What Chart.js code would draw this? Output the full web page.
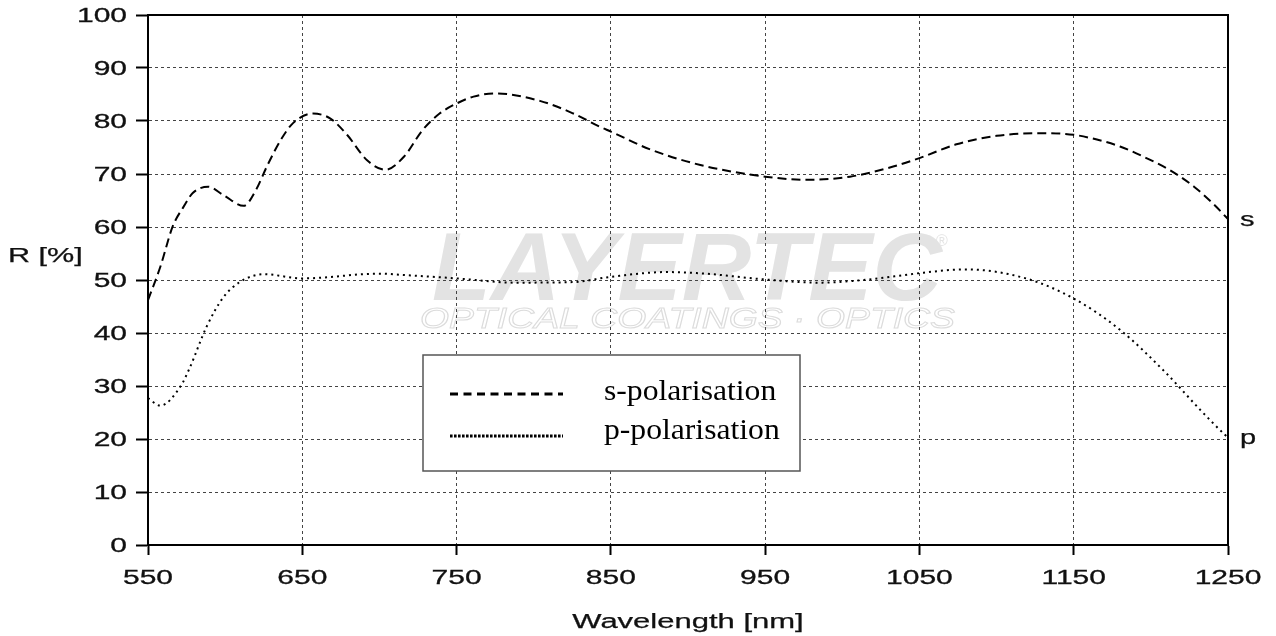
<!DOCTYPE html>
<html>
<head>
<meta charset="utf-8">
<script src="https://cdn.jsdelivr.net/npm/chart.js@4"></script>
<style>
  html, body { margin: 0; padding: 0; background: #fff; }
  #wrap { width: 1276px; height: 636px; position: relative; }
</style>
</head>
<body>
<div id="wrap"><canvas id="chart"></canvas></div>
<script>
// s-polarisation
const sWave = [550, 558, 566, 573, 579, 589, 599, 612, 620, 627, 636, 644, 657, 668, 679, 692, 704, 716, 728, 739,
               750, 761, 775, 804, 825, 843, 850, 875, 908, 950, 977, 1005, 1033, 1050, 1074, 1100, 1131, 1150,
               1165, 1180, 1195, 1212, 1228, 1241, 1250]
const sR    = [46.2, 52.5, 60.1, 63.8, 66.4, 67.6, 66.0, 64.0, 67.0, 71.4, 76.4, 79.6, 81.4, 80.5, 77.4, 72.6, 70.8, 73.3, 78.3, 81.4,
               83.3, 84.6, 85.2, 83.8, 81.5, 78.9, 78.0, 74.7, 71.7, 69.5, 68.9, 69.5, 71.4, 73.0, 75.6, 77.2, 77.7, 77.4,
               76.5, 75.2, 73.3, 70.8, 67.6, 64.2, 61.5]

// p-polarisation
const pWave = [550, 558, 571, 577, 588, 599, 610, 625, 650, 700, 713, 750, 788, 825, 850, 886, 911, 950, 985, 1010,
               1037, 1050, 1080, 1119, 1150, 1180, 1210, 1232, 1248, 1250]
const pR    = [27.7, 26.3, 29.9, 33.4, 41.2, 46.8, 49.7, 51.1, 50.3, 51.2, 51.0, 50.3, 49.5, 49.6, 50.6, 51.5, 51.2, 50.1, 49.5, 49.9,
               50.8, 51.3, 52.0, 50.3, 46.5, 40.6, 32.4, 25.5, 20.8, 20.3]

const xTicks = [550, 650, 750, 850, 950, 1050, 1150, 1250]
const yTicks = [0, 10, 20, 30, 40, 50, 60, 70, 80, 90, 100]

const seriesNames = ["s-polarisation", "p-polarisation"]
const endLabels   = ["s", "p"]

const ink = "#111"
const gridColor = "#444"
const sans = '"Liberation Sans", Arial, sans-serif'
const serif = '"Liberation Serif", "Times New Roman", serif'

// text drawn with a horizontal stretch, the reference is a widened image
function wideText(ctx, text, x, y, font, sx, align, weight) {
  ctx.save()
  ctx.font = font
  const w = ctx.measureText(text).width * sx
  let left = x
  if (align === "center") left = x - w / 2
  else if (align === "right") left = x - w
  ctx.translate(left, y)
  ctx.scale(sx, 1)
  ctx.textAlign = "left"
  ctx.fillText(text, 0, 0)
  if (weight) {
    ctx.strokeStyle = ctx.fillStyle
    ctx.lineWidth = weight
    ctx.strokeText(text, 0, 0)
  }
  ctx.restore()
}

function fitText(ctx, text, x, y, font, width, stroke) {
  ctx.save()
  ctx.font = font
  const w = ctx.measureText(text).width
  ctx.translate(x, y)
  ctx.scale(width / w, 1)
  ctx.textAlign = "left"
  if (stroke) ctx.strokeText(text, 0, 0)
  else ctx.fillText(text, 0, 0)
  ctx.restore()
}

const decor = {
  id: "decor",
  beforeDraw(chart) {
    const ctx = chart.ctx
    ctx.save()
    ctx.fillStyle = "#fff"
    ctx.fillRect(0, 0, chart.width, chart.height)

    // faint watermark
    ctx.fillStyle = "#e3e3e3"
    ctx.textBaseline = "alphabetic"
    fitText(ctx, "LAYERTEC", 432, 300, "italic bold 96px " + sans, 510)
    ctx.font = "16px " + sans
    ctx.fillText("®", 936, 246)
    ctx.strokeStyle = "#dcdcdc"
    ctx.lineWidth = 1
    fitText(ctx, "OPTICAL COATINGS · OPTICS", 420, 328, "italic 30px " + sans, 535, true)
    ctx.restore()
  },
  afterDraw(chart) {
    const ctx = chart.ctx
    const { left, right, top, bottom } = chart.chartArea
    const xs = chart.scales.x
    const ys = chart.scales.y

    ctx.save()
    // frame
    ctx.strokeStyle = "#000"
    ctx.lineWidth = 2
    ctx.strokeRect(left, top, right - left, bottom - top)

    // tick labels
    ctx.fillStyle = ink
    ctx.textBaseline = "middle"
    yTicks.forEach(v => wideText(ctx, String(v), left - 21, ys.getPixelForValue(v) + 1, "20px " + sans, 1.5, "right", 0.3))
    ctx.textBaseline = "alphabetic"
    xTicks.forEach(v => wideText(ctx, String(v), xs.getPixelForValue(v), bottom + 39, "20px " + sans, 1.5, "center", 0.3))

    // axis titles
    wideText(ctx, "Wavelength [nm]", (left + right) / 2, 628, "20px " + sans, 1.55, "center", 0.25)
    wideText(ctx, "R [%]", 8, 262, "20px " + sans, 1.53, "left", 0.25)

    // series end labels
    chart.data.datasets.forEach((ds, i) => {
      const pts = chart.getDatasetMeta(i).data
      const last = pts[pts.length - 1]
      wideText(ctx, endLabels[i], right + 12, last.y + 7, "20px " + sans, 1.45, "left", 0.25)
    })

    // legend box
    const bx = 423, by = 355, bw = 377, bh = 116
    ctx.fillStyle = "#fff"
    ctx.fillRect(bx, by, bw, bh)
    ctx.strokeStyle = "#555"
    ctx.lineWidth = 1.5
    ctx.strokeRect(bx, by, bw, bh)

    const rows = [
      { y: 394, dash: [8, 5.5], text: 400 },
      { y: 436, dash: [2.6, 1.4], text: 439 }
    ]
    rows.forEach((r, i) => {
      ctx.strokeStyle = "#000"
      ctx.lineWidth = 3
      ctx.setLineDash(r.dash)
      ctx.beginPath()
      ctx.moveTo(450, r.y)
      ctx.lineTo(563, r.y)
      ctx.stroke()
      ctx.setLineDash([])
      ctx.fillStyle = "#000"
      wideText(ctx, seriesNames[i], 604, r.text, "28.5px " + serif, 1.11, "left")
    })
    ctx.restore()
  }
}

new Chart(document.getElementById("chart"), {
  type: "line",
  data: {
    datasets: [
      {
        label: seriesNames[0],
        data: sWave.map((w, i) => ({ x: w, y: sR[i] })),
        borderColor: "#000",
        borderWidth: 2,
        borderDash: [9, 5],
        pointRadius: 0,
        cubicInterpolationMode: "monotone",
        fill: false
      },
      {
        label: seriesNames[1],
        data: pWave.map((w, i) => ({ x: w, y: pR[i] })),
        borderColor: "#000",
        borderWidth: 2,
        borderDash: [2, 4],
        pointRadius: 0,
        cubicInterpolationMode: "monotone",
        fill: false
      }
    ]
  },
  options: {
    responsive: true,
    maintainAspectRatio: false,
    animation: false,
    layout: { padding: { top: 15, right: 48, left: 0, bottom: 0 } },
    plugins: {
      legend: { display: false },
      tooltip: { enabled: false }
    },
    scales: {
      x: {
        type: "linear",
        min: 550,
        max: 1250,
        afterBuildTicks: s => { s.ticks = xTicks.map(v => ({ value: v })) },
        afterFit: s => { s.height = 91 },
        ticks: { display: false },
        grid: { color: gridColor, lineWidth: 1, tickLength: 10, tickColor: "#000", tickWidth: 2, tickBorderDash: [] },
        border: { display: true, color: "#000", width: 2, dash: [3, 3] }
      },
      y: {
        min: 0,
        max: 100,
        afterBuildTicks: s => { s.ticks = yTicks.map(v => ({ value: v })) },
        afterFit: s => { s.width = 148 },
        ticks: { display: false },
        grid: { color: gridColor, lineWidth: 1, tickLength: 12, tickColor: "#000", tickWidth: 2, tickBorderDash: [] },
        border: { display: true, color: "#000", width: 2, dash: [3, 3] }
      }
    }
  },
  plugins: [decor]
})
</script>
</body>
</html>
